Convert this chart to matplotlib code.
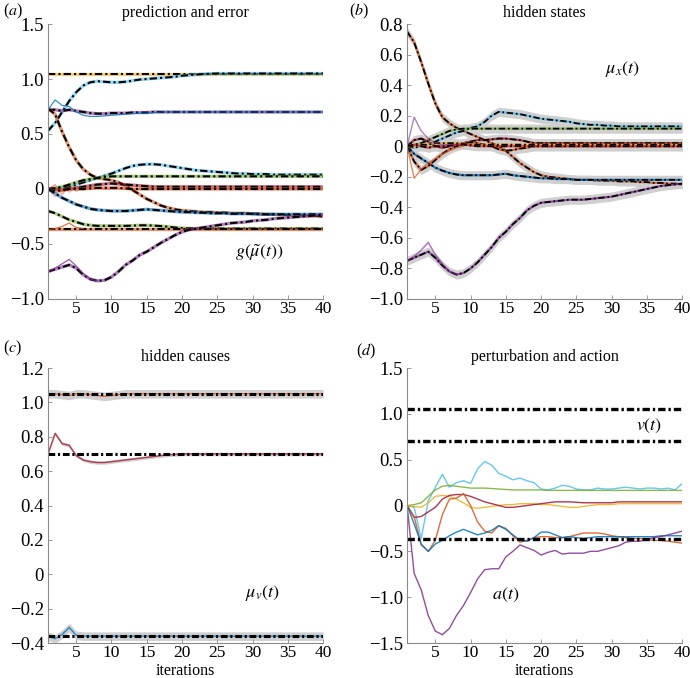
"""
Active inference demo: prediction, hidden states, hidden causes, action
"""

import numpy as np
import matplotlib as mpl
mpl.use("Agg")
import matplotlib.pyplot as plt
from matplotlib.ticker import FuncFormatter

plt.rcParams["font.family"] = ["Liberation Serif", "DejaVu Serif"]
plt.rcParams["mathtext.fontset"] = "stix"

# matlab default line colours
BLUE, ORANGE, YELLOW = "#0072BD", "#D95319", "#EDB120"
PURPLE, GREEN, CYAN, MAROON = "#7E2F8E", "#77AC30", "#4DBEEE", "#A2142F"

iterations = np.arange(1, 41)

# ---- (a) prediction and error
a_top = [1.05] * 40
a_rise = [0.53, 0.60, 0.70, 0.80, 0.88, 0.94, 0.97, 0.98, 0.975, 0.97,
          0.97, 0.975, 0.985, 0.995, 1.0, 1.005, 1.01, 1.015, 1.02, 1.03,
          1.035, 1.04, 1.045, 1.048, 1.05] + [1.05] * 15
a_mid = [0.72, 0.72, 0.71, 0.72, 0.71, 0.70, 0.69, 0.685, 0.685, 0.69,
         0.69, 0.69, 0.695, 0.695, 0.695, 0.70] + [0.70] * 24
a_mid_thin = [0.72, 0.81, 0.76, 0.75, 0.70, 0.67, 0.66, 0.66, 0.665, 0.67,
              0.675, 0.68, 0.685, 0.69, 0.69, 0.695, 0.70] + [0.70] * 23
a_fall = [0.73, 0.68, 0.52, 0.38, 0.26, 0.18, 0.13, 0.10, 0.09, 0.08,
          0.06, 0.03, -0.01, -0.05, -0.09, -0.12, -0.15, -0.17, -0.185, -0.195,
          -0.2, -0.205, -0.21, -0.21, -0.215, -0.215, -0.22, -0.22, -0.22, -0.225,
          -0.225, -0.23, -0.23, -0.235, -0.235, -0.24, -0.24, -0.245, -0.245, -0.25]
a_hump = [0.0, 0.0, 0.01, 0.02, 0.04, 0.06, 0.08, 0.10, 0.12, 0.14,
          0.165, 0.19, 0.21, 0.22, 0.225, 0.225, 0.22, 0.21, 0.2, 0.19,
          0.18, 0.17, 0.165, 0.16, 0.155, 0.15, 0.145, 0.14, 0.14, 0.135,
          0.135, 0.135, 0.13, 0.13, 0.13, 0.13, 0.13, 0.13, 0.13, 0.13]
a_green = [0.0, 0.01, 0.02, 0.04, 0.06, 0.08, 0.09, 0.10, 0.11, 0.115] + [0.115] * 30
a_near1 = [0.0, 0.0, -0.01, 0.0, 0.01, 0.02, 0.03, 0.04, 0.045, 0.05,
           0.045, 0.04, 0.035, 0.03, 0.025] + [0.02] * 25
a_near2 = [0.0, -0.02, -0.01, 0.0, 0.0, 0.0, 0.005, 0.01, 0.01, 0.01,
           0.01, 0.005] + [0.0] * 28
a_err1 = [0.0, 0.04, -0.05, 0.03, -0.02, 0.01, 0.0, 0.01, 0.0, 0.0] + [0.0] * 30
a_err2 = [0.0, -0.07, 0.02, -0.03, 0.02, -0.01, 0.01, 0.0, 0.0, 0.0] + [0.0] * 30
a_fall2 = [0.0, -0.04, -0.08, -0.11, -0.14, -0.16, -0.18, -0.19, -0.195, -0.2,
           -0.2, -0.2, -0.195, -0.19, -0.185, -0.19, -0.195, -0.2, -0.205, -0.21,
           -0.21, -0.215, -0.215, -0.22, -0.22, -0.22, -0.225, -0.225, -0.225, -0.225,
           -0.23] + [-0.23] * 9
a_low = [-0.2, -0.22, -0.25, -0.28, -0.30, -0.32, -0.33, -0.335, -0.335, -0.335,
         -0.335, -0.335, -0.333, -0.33, -0.33, -0.333, -0.337, -0.343, -0.35, -0.355,
         -0.358] + [-0.36] * 19
a_flat = [-0.36] * 40
a_flat_thin = [-0.37, -0.36, -0.34, -0.31, -0.35, -0.36]
a_bottom = [-0.75, -0.73, -0.71, -0.69, -0.72, -0.78, -0.82, -0.835, -0.83, -0.80,
            -0.75, -0.69, -0.65, -0.60, -0.57, -0.53, -0.49, -0.455, -0.42, -0.39,
            -0.37, -0.36, -0.35, -0.34, -0.33, -0.32, -0.31, -0.305, -0.30, -0.29,
            -0.285, -0.28, -0.27, -0.265, -0.26, -0.255, -0.25, -0.245, -0.24, -0.235]
a_bottom_thin = [-0.75, -0.72, -0.68, -0.64, -0.70, -0.77, -0.82, -0.835]

# ---- (b) hidden states
b_fall = [0.75, 0.68, 0.55, 0.41, 0.28, 0.19, 0.15, 0.12, 0.10, 0.08,
          0.06, 0.04, 0.02, 0.0, -0.03, -0.07, -0.11, -0.14, -0.17, -0.19,
          -0.2, -0.205, -0.21, -0.215, -0.22, -0.22, -0.22, -0.225, -0.225, -0.225,
          -0.23, -0.23, -0.23, -0.235, -0.235, -0.24, -0.24, -0.245, -0.245, -0.25]
b_hump = [0.0, -0.01, 0.0, 0.01, 0.03, 0.05, 0.07, 0.09, 0.10, 0.12,
          0.13, 0.16, 0.20, 0.225, 0.22, 0.215, 0.21, 0.2, 0.19, 0.18,
          0.175, 0.17, 0.165, 0.16, 0.15, 0.145, 0.14, 0.14, 0.135, 0.135,
          0.13] + [0.13] * 9
b_green = [0.0, 0.01, 0.02, 0.04, 0.06, 0.08, 0.10, 0.11, 0.115, 0.115] + [0.115] * 30
b_fall2 = [0.0, -0.05, -0.08, -0.11, -0.14, -0.16, -0.175, -0.185, -0.19, -0.19,
           -0.19, -0.19, -0.19, -0.185, -0.18, -0.19, -0.195, -0.2, -0.205, -0.21,
           -0.21, -0.215, -0.215, -0.215, -0.22] + [-0.22] * 15
b_bottom = [-0.75, -0.73, -0.71, -0.69, -0.73, -0.78, -0.82, -0.84, -0.83, -0.80,
            -0.76, -0.71, -0.66, -0.60, -0.56, -0.51, -0.47, -0.42, -0.39, -0.37,
            -0.365, -0.36, -0.355, -0.35, -0.35, -0.35, -0.345, -0.34, -0.335, -0.33,
            -0.32, -0.31, -0.30, -0.29, -0.28, -0.27, -0.26, -0.255, -0.25, -0.245]
b_bottom_thin = [-0.75, -0.72, -0.68, -0.63, -0.71, -0.77, -0.82, -0.84]
b_near = [0.0, 0.04, 0.05, 0.03, 0.0, -0.01, 0.0, 0.01, 0.02, 0.03,
          0.04, 0.04, 0.045, 0.05, 0.05, 0.045, 0.04, 0.03] + [0.02] * 22
b_near_thin = [0.0, 0.19, 0.10, 0.05, 0.02, 0.01, 0.01, 0.01]
b_loop = [0.0, -0.10, -0.155, -0.13, -0.09, -0.05, -0.02, 0.0, 0.015, 0.025,
          0.02, 0.01, 0.0, -0.02, -0.03, -0.025, -0.015, -0.01] + [0.0] * 22
b_loop_thin = [0.0, -0.21, -0.15, -0.11, -0.08, -0.05, -0.03, -0.01, 0.0]
b_yellow = [0.0, 0.0, 0.01, 0.01, 0.02, 0.02, 0.02, 0.02, 0.015] + [0.01] * 31
b_red = [0.0, 0.01, 0.0, -0.01, 0.0, 0.0, 0.005, 0.01, 0.01, 0.005] + [0.0] * 30
b_ci = 0.03

# ---- (c) hidden causes / (d) true causes
causes_true = [1.05, 0.70, -0.36]
c_top = [1.05, 1.05, 1.045, 1.04, 1.05, 1.05, 1.045, 1.04, 1.035, 1.04,
         1.045] + [1.05] * 29
c_mid = [0.70, 0.82, 0.76, 0.75, 0.69, 0.665, 0.655, 0.65, 0.65, 0.655,
         0.66, 0.665, 0.67, 0.675, 0.68, 0.685, 0.69, 0.695, 0.697] + [0.70] * 21
c_bot = [-0.36, -0.375, -0.35, -0.31, -0.355] + [-0.36] * 35
c_ci = [0.025, 0.01, 0.025]

# ---- (d) action
d_cyan = [0.0, -0.02, -0.36, 0.05, 0.2, 0.34, 0.2, 0.25, 0.27, 0.24,
          0.40, 0.48, 0.44, 0.35, 0.32, 0.28, 0.30, 0.27, 0.25, 0.18,
          0.17, 0.19, 0.22, 0.21, 0.18, 0.17, 0.17, 0.19, 0.18, 0.18,
          0.19, 0.20, 0.19, 0.18, 0.19, 0.19, 0.18, 0.19, 0.17, 0.24]
d_green = [0.0, 0.01, 0.03, 0.10, 0.17, 0.21, 0.22, 0.21, 0.20, 0.19,
           0.19, 0.19, 0.185, 0.18, 0.175, 0.17, 0.17, 0.17, 0.17, 0.17] + [0.165] * 20
d_yellow = [0.0, -0.01, -0.02, 0.03, 0.10, 0.11, 0.10, 0.07, 0.03, -0.02,
            -0.03, -0.02, -0.01, 0.0, 0.01, 0.01, 0.02, 0.02, 0.02, 0.01,
            0.01, 0.0, -0.01, -0.02, -0.02, -0.01, 0.0, 0.01, 0.01, 0.01] + [0.02] * 10
d_maroon = [0.0, -0.13, -0.12, -0.07, -0.02, 0.07, 0.11, 0.12, 0.12, 0.10,
            0.07, 0.04, 0.02, 0.0, -0.02, -0.02, -0.01, 0.0, 0.01, 0.02,
            0.03, 0.04, 0.04, 0.04, 0.035, 0.03, 0.03, 0.03, 0.03, 0.03] + [0.04] * 10
d_orange = [0.0, -0.12, -0.43, -0.50, -0.38, -0.10, 0.07, 0.08, 0.13, 0.0,
            -0.18, -0.28, -0.30, -0.22, -0.25, -0.33, -0.40, -0.38, -0.35, -0.34,
            -0.34, -0.35, -0.35, -0.34, -0.32, -0.30, -0.30, -0.30, -0.31, -0.33,
            -0.34, -0.35, -0.36, -0.36, -0.37, -0.38, -0.38, -0.39, -0.40, -0.41]
d_blue = [0.0, -0.2, -0.42, -0.50, -0.42, -0.38, -0.33, -0.29, -0.26, -0.29,
          -0.32, -0.30, -0.27, -0.22, -0.26, -0.32, -0.38, -0.39, -0.35, -0.29,
          -0.29, -0.32, -0.35, -0.34, -0.35, -0.36, -0.35, -0.34, -0.34, -0.34,
          -0.34, -0.34, -0.34, -0.34, -0.34, -0.34, -0.33, -0.33, -0.33, -0.33]
d_purple = [0.0, -0.74, -0.92, -1.2, -1.37, -1.41, -1.34, -1.2, -1.09, -0.95,
            -0.8, -0.7, -0.69, -0.69, -0.56, -0.5, -0.43, -0.46, -0.49, -0.54,
            -0.51, -0.49, -0.53, -0.52, -0.52, -0.52, -0.5, -0.5, -0.48, -0.46,
            -0.44, -0.4, -0.39, -0.39, -0.37, -0.35, -0.34, -0.32, -0.3, -0.28]

DASHDOT = (0, (3.5, 1.5, 1.0, 1.5))
DASHDOT_THICK = (0, (2.2, 0.9, 0.7, 0.9))


def fmt(v, _):
    if abs(v) < 1e-9:
        return "0"
    return f"{v:.1f}".replace("-", "\u2212")


def style(ax, ylim, yticks):
    ax.set_xlim(1, 40)
    ax.set_ylim(*ylim)
    ax.set_xticks(range(5, 41, 5))
    ax.set_yticks(yticks)
    ax.yaxis.set_major_formatter(FuncFormatter(fmt))
    for s in ["top", "right"]:
        ax.spines[s].set_visible(False)
    for s in ["left", "bottom"]:
        ax.spines[s].set_color("#8a8a8a")
        ax.spines[s].set_linewidth(0.8)
    ax.tick_params(direction="in", length=3, width=0.6, color="#8a8a8a",
                   labelsize=13.5, pad=3)
    ax.tick_params(axis="x", pad=1.5, labelsize=12.5)


def pair(ax, y, color, lw_c=2.4, lw_k=1.5, alpha=0.6):
    xs = iterations[:len(y)]
    ax.plot(xs, y, color=color, lw=lw_c, alpha=alpha, solid_capstyle="butt")
    ax.plot(xs, y, color="k", lw=lw_k, ls=DASHDOT)


def thin(ax, y, color, lw=0.9, alpha=0.8):
    ax.plot(iterations[:len(y)], y, color=color, lw=lw, alpha=alpha)


def band(ax, y, ci):
    y = np.array(y)
    ax.fill_between(iterations[:len(y)], y - ci, y + ci, color="#cfcfcf", lw=0)


fig = plt.figure(figsize=(6.9, 6.78), dpi=100)
ax_a = fig.add_axes([0.0696, 0.559, 0.3986, 0.4056])
ax_b = fig.add_axes([0.590, 0.559, 0.3986, 0.4056])
ax_c = fig.add_axes([0.0696, 0.0516, 0.3986, 0.4056])
ax_d = fig.add_axes([0.590, 0.0516, 0.3986, 0.4056])

# (a)
thin(ax_a, a_err1, "#ff6f6f", lw=0.8)
thin(ax_a, a_err2, "#ff9090", lw=0.8)
for y, c in [(a_top, YELLOW), (a_rise, CYAN), (a_mid, PURPLE), (a_fall, ORANGE),
             (a_hump, CYAN), (a_green, GREEN), (a_near1, MAROON), (a_near2, ORANGE),
             (a_fall2, BLUE), (a_low, GREEN), (a_flat, ORANGE), (a_bottom, PURPLE)]:
    pair(ax_a, y, c)
thin(ax_a, a_mid_thin, BLUE)
thin(ax_a, a_flat_thin, ORANGE)
thin(ax_a, a_bottom_thin, PURPLE)
style(ax_a, (-1.0, 1.5), [-1.0, -0.5, 0, 0.5, 1.0, 1.5])
ax_a.set_title("prediction and error", fontsize=11.5, pad=5)
ax_a.text(27.5, -0.62, r"$g(\tilde{\mu}(t))$", fontsize=13)

# (b)
b_series = [(b_fall, ORANGE), (b_hump, CYAN), (b_green, GREEN), (b_fall2, BLUE),
            (b_bottom, PURPLE), (b_near, MAROON), (b_loop, ORANGE),
            (b_yellow, YELLOW), (b_red, "#e0303a")]
for y, c in b_series:
    band(ax_b, y, b_ci)
for y, c in b_series:
    pair(ax_b, y, c, lw_c=1.6, lw_k=1.3, alpha=0.8)
thin(ax_b, b_bottom_thin, PURPLE, lw=1.2, alpha=0.6)
thin(ax_b, b_near_thin, PURPLE, lw=1.0, alpha=0.6)
thin(ax_b, b_loop_thin, ORANGE, lw=1.0, alpha=0.7)
style(ax_b, (-1.0, 0.8), np.round(np.arange(-1.0, 0.81, 0.2), 1))
ax_b.set_title("hidden states", fontsize=11.5, pad=5)
ax_b.text(29, 0.48, r"$\mu_x(t)$", fontsize=13)

# (c)
for y, ci in zip([c_top, c_mid, c_bot], c_ci):
    band(ax_c, y, ci)
thin(ax_c, c_top, ORANGE, lw=1.0)
thin(ax_c, c_mid, MAROON, lw=1.0)
thin(ax_c, c_bot, BLUE, lw=1.0)
for lvl in causes_true:
    ax_c.axhline(lvl, color="k", lw=2.2, ls=DASHDOT_THICK)
style(ax_c, (-0.4, 1.2), np.round(np.arange(-0.4, 1.21, 0.2), 1))
ax_c.set_title("hidden causes", fontsize=11.5, pad=5)
ax_c.set_xlabel("iterations", fontsize=11.5)
ax_c.xaxis.set_label_coords(0.5, -0.072)
ax_c.text(29, -0.13, r"$\mu_v(t)$", fontsize=13)

# (d)
for y, c in [(d_cyan, CYAN), (d_green, GREEN), (d_yellow, YELLOW), (d_maroon, MAROON),
             (d_orange, ORANGE), (d_blue, BLUE), (d_purple, PURPLE)]:
    thin(ax_d, y, c, lw=1.0, alpha=0.85)
for lvl in causes_true:
    ax_d.axhline(lvl, color="k", lw=2.4, ls=DASHDOT_THICK)
style(ax_d, (-1.5, 1.5), [-1.5, -1.0, -0.5, 0, 0.5, 1.0, 1.5])
ax_d.set_title("perturbation and action", fontsize=11.5, pad=5)
ax_d.set_xlabel("iterations", fontsize=11.5)
ax_d.xaxis.set_label_coords(0.5, -0.072)
ax_d.text(33.5, 0.82, r"$v(t)$", fontsize=13)
ax_d.text(13, -1.02, r"$a(t)$", fontsize=13)

for label, (fx, fy) in zip("abcd", [(0.004, 0.978), (0.506, 0.978),
                                     (0.004, 0.480), (0.516, 0.476)]):
    fig.text(fx, fy, f"(${label}$)", fontsize=11.5)

fig.savefig("out.png", dpi=100)
